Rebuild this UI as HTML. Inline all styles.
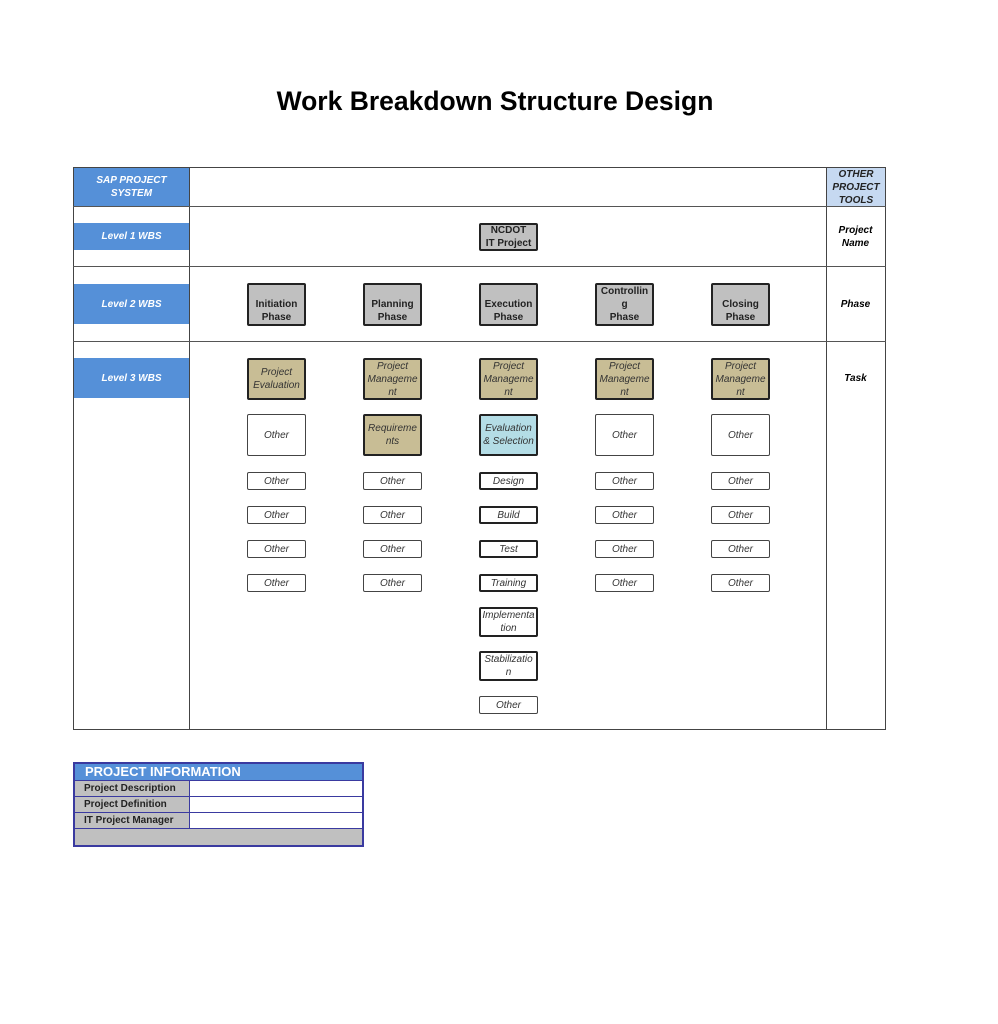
<!DOCTYPE html>
<html><head><meta charset="utf-8"><style>
body{margin:0;width:998px;height:1024px;background:#fff;position:relative;font-family:"Liberation Sans",sans-serif;overflow:hidden}
.a{position:absolute;box-sizing:border-box}
.t{position:absolute;left:0;width:990px;top:86px;text-align:center;font-size:26.5px;font-weight:bold;color:#000}
.blue{background:#5590d8;color:#fff;font-weight:bold;font-style:italic;font-size:10px;display:flex;align-items:center;justify-content:center;text-align:center;line-height:13px}
.hl{position:absolute;height:1px;background:#555}
.b{position:absolute;box-sizing:border-box;width:59px;border:2px solid #222;border-radius:2px;font-size:10px;line-height:13px;text-align:center;display:flex;flex-direction:column;align-items:center;color:#333}
.g{background:#c0c0c0;font-weight:bold;justify-content:flex-end;color:#222}
.k{background:#c8bd95;font-style:italic;justify-content:flex-start}
.w{background:#fff;font-style:italic;justify-content:center;border:1.5px solid #444}
.w2{background:#fff;font-style:italic;justify-content:center}
.c{background:#b4dde6;font-style:italic;justify-content:center}
.r{font-size:10px;font-weight:bold;font-style:italic;text-align:center;line-height:13px;position:absolute;left:826px;width:59px}
</style></head><body>
<div class="t">Work Breakdown Structure Design</div>
<div class="a" style="left:73px;top:167px;width:813px;height:563px;border:1px solid #444"></div>
<div class="a" style="left:189px;top:167px;width:1px;height:563px;background:#444"></div>
<div class="a" style="left:826px;top:167px;width:1px;height:563px;background:#444"></div>
<div class="hl" style="left:73px;top:206px;width:813px"></div>
<div class="hl" style="left:73px;top:266px;width:813px"></div>
<div class="hl" style="left:73px;top:341px;width:813px"></div>
<div class="a blue" style="left:74px;top:168px;width:115px;height:38px">SAP PROJECT<br>SYSTEM</div>
<div class="a blue" style="left:74px;top:223px;width:115px;height:27px">Level 1 WBS</div>
<div class="a blue" style="left:74px;top:284px;width:115px;height:40px">Level 2 WBS</div>
<div class="a blue" style="left:74px;top:358px;width:115px;height:40px">Level 3 WBS</div>
<div class="a" style="left:827px;top:168px;width:58px;height:38px;background:#c6d9f1;font-size:10px;font-weight:bold;font-style:italic;text-align:center;line-height:13px;color:#222">OTHER<br>PROJECT<br>TOOLS</div>
<div class="r" style="top:224px">Project<br>Name</div>
<div class="r" style="top:298px">Phase</div>
<div class="r" style="top:372px">Task</div>

<div class="b g" style="left:479px;top:223px;height:28px;justify-content:center">NCDOT<br>IT Project</div>

<div class="b g" style="left:247px;top:283px;height:43px">Initiation<br>Phase</div>
<div class="b g" style="left:363px;top:283px;height:43px">Planning<br>Phase</div>
<div class="b g" style="left:479px;top:283px;height:43px">Execution<br>Phase</div>
<div class="b g" style="left:595px;top:283px;height:43px">Controllin<br>g<br>Phase</div>
<div class="b g" style="left:711px;top:283px;height:43px">Closing<br>Phase</div>

<div class="b k" style="left:247px;top:358px;height:42px;justify-content:center">Project<br>Evaluation</div>
<div class="b k" style="left:363px;top:358px;height:42px">Project<br>Manageme<br>nt</div>
<div class="b k" style="left:479px;top:358px;height:42px">Project<br>Manageme<br>nt</div>
<div class="b k" style="left:595px;top:358px;height:42px">Project<br>Manageme<br>nt</div>
<div class="b k" style="left:711px;top:358px;height:42px">Project<br>Manageme<br>nt</div>

<div class="b w" style="left:247px;top:414px;height:42px">Other</div>
<div class="b k" style="left:363px;top:414px;height:42px;justify-content:center">Requireme<br>nts</div>
<div class="b c" style="left:479px;top:414px;height:42px">Evaluation<br>&amp; Selection</div>
<div class="b w" style="left:595px;top:414px;height:42px">Other</div>
<div class="b w" style="left:711px;top:414px;height:42px">Other</div>

<div class="b w" style="left:247px;top:472px;height:18px">Other</div>
<div class="b w" style="left:363px;top:472px;height:18px">Other</div>
<div class="b w2" style="left:479px;top:472px;height:18px">Design</div>
<div class="b w" style="left:595px;top:472px;height:18px">Other</div>
<div class="b w" style="left:711px;top:472px;height:18px">Other</div>

<div class="b w" style="left:247px;top:506px;height:18px">Other</div>
<div class="b w" style="left:363px;top:506px;height:18px">Other</div>
<div class="b w2" style="left:479px;top:506px;height:18px">Build</div>
<div class="b w" style="left:595px;top:506px;height:18px">Other</div>
<div class="b w" style="left:711px;top:506px;height:18px">Other</div>

<div class="b w" style="left:247px;top:540px;height:18px">Other</div>
<div class="b w" style="left:363px;top:540px;height:18px">Other</div>
<div class="b w2" style="left:479px;top:540px;height:18px">Test</div>
<div class="b w" style="left:595px;top:540px;height:18px">Other</div>
<div class="b w" style="left:711px;top:540px;height:18px">Other</div>

<div class="b w" style="left:247px;top:574px;height:18px">Other</div>
<div class="b w" style="left:363px;top:574px;height:18px">Other</div>
<div class="b w2" style="left:479px;top:574px;height:18px">Training</div>
<div class="b w" style="left:595px;top:574px;height:18px">Other</div>
<div class="b w" style="left:711px;top:574px;height:18px">Other</div>

<div class="b w2" style="left:479px;top:607px;height:30px">Implementa<br>tion</div>
<div class="b w2" style="left:479px;top:651px;height:30px">Stabilizatio<br>n</div>
<div class="b w" style="left:479px;top:696px;height:18px">Other</div>

<div class="a" style="left:73px;top:762px;width:291px;height:85px;border:2px solid #3a3aa0;background:#c0c0c0"></div>
<div class="a" style="left:75px;top:764px;width:287px;height:16px;background:#5590d8;color:#fff;font-weight:bold;font-size:13px;line-height:16px;padding-left:10px">PROJECT INFORMATION</div>
<div class="a" style="left:75px;top:780px;width:287px;height:1px;background:#3a3aa0"></div>
<div class="a" style="left:75px;top:796px;width:287px;height:1px;background:#3a3aa0"></div>
<div class="a" style="left:75px;top:812px;width:287px;height:1px;background:#3a3aa0"></div>
<div class="a" style="left:75px;top:828px;width:287px;height:1px;background:#3a3aa0"></div>
<div class="a" style="left:189px;top:781px;width:1px;height:47px;background:#3a3aa0"></div>
<div class="a" style="left:190px;top:781px;width:172px;height:15px;background:#fff"></div>
<div class="a" style="left:190px;top:797px;width:172px;height:15px;background:#fff"></div>
<div class="a" style="left:190px;top:813px;width:172px;height:15px;background:#fff"></div>
<div class="a" style="left:84px;top:782px;font-size:10px;font-weight:bold;color:#222;line-height:14px">Project Description</div>
<div class="a" style="left:84px;top:798px;font-size:10px;font-weight:bold;color:#222;line-height:14px">Project Definition</div>
<div class="a" style="left:84px;top:814px;font-size:10px;font-weight:bold;color:#222;line-height:14px">IT Project Manager</div>
</body></html>
